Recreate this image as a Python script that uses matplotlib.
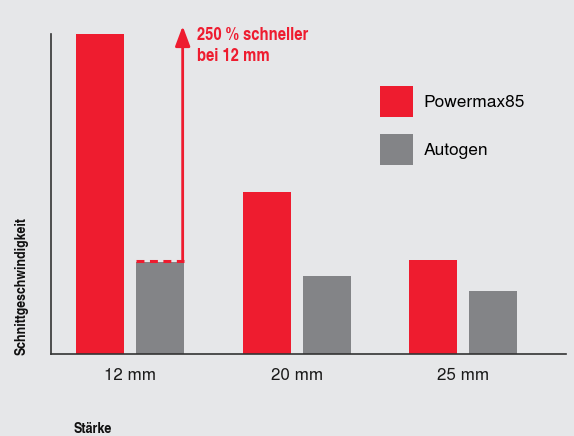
import matplotlib
matplotlib.use("Agg")
import matplotlib.pyplot as plt
import matplotlib.transforms as mtransforms
import numpy as np

categories = ["12 mm", "20 mm", "25 mm"]
powermax = [3.48, 1.76, 1.02]
autogen = [1.00, 0.85, 0.68]
series_names = ["Powermax85", "Autogen"]
annot_text = "250 % schneller\nbei 12 mm"
ylabel = "Schnittgeschwindigkeit"
xlabel = "Stärke"

COND = ['TeX Gyre Heros Cn', 'DejaVu Sans']
REG = ['TeX Gyre Heros', 'Liberation Sans', 'DejaVu Sans']
RED = "#ee1c2f"
GREY = "#838487"
BG = "#e6e7e9"

fig = plt.figure(figsize=(5.74, 4.36), dpi=100, facecolor=BG)
ax = fig.add_axes([51/574, (436-354)/436, (566-51)/574, 320/436])
ax.set_facecolor(BG)

x = np.arange(len(categories))
w = 0.288
off = 0.18
ax.bar(x - off, powermax, width=w, color=RED, label=series_names[0], zorder=2)
ax.bar(x + off, autogen, width=w, color=GREY, label=series_names[1], zorder=2)

ax.set_xlim(-0.474, 2.616)
ax.set_ylim(0, powermax[0])
ax.set_xticks(x)
ax.set_xticklabels(categories, fontsize=12.3, family=REG, color="#1a1a1a")
ax.tick_params(axis='x', length=0, pad=10)
ax.set_yticks([])
for s in ['top', 'right']:
    ax.spines[s].set_visible(False)
for s in ['left', 'bottom']:
    ax.spines[s].set_color("#333333")
    ax.spines[s].set_linewidth(1.2)

# dashed line on top of autogen 12 mm bar (sits just above the bar)
up = mtransforms.offset_copy(ax.transData, fig=fig, x=0, y=1.5, units='dots')
ax.plot([0 + off - w/2, 0 + off + w/2], [autogen[0], autogen[0]], color=RED,
        lw=2.2, dashes=(2.6, 1.8), zorder=3, solid_capstyle='butt',
        dash_capstyle='butt', transform=up)
# arrow
ax_x = 0 + off + w/2 - 0.008
ax.annotate("", xy=(ax_x, powermax[0] * 1.02), xytext=(ax_x, autogen[0]),
            xycoords=up, textcoords=up,
            arrowprops=dict(arrowstyle="-|>,head_length=1.2,head_width=0.45",
                            color=RED, lw=2, shrinkA=0, shrinkB=0),
            annotation_clip=False, zorder=4)
ax.text(ax_x + 0.085, powermax[0] * 1.022, annot_text, color=RED, fontsize=13,
        family=COND, fontweight='bold', va='top', ha='left', linespacing=1.3)

# legend
leg = ax.legend(loc='upper left', bbox_to_anchor=(0.625, 0.859), frameon=False,
                prop={'family': REG, 'size': 12.5},
                handlelength=1.9, handleheight=2.37, handletextpad=0.63,
                labelspacing=0.98, borderaxespad=0)

fig.text(22/574, 1 - 355/436, ylabel, rotation=90, ha='center', va='bottom',
         fontsize=10.8, family=COND, fontweight='bold', color="#111111")
fig.text(74/574, 1 - 422/436, xlabel, ha='left', va='top',
         fontsize=11, family=COND, fontweight='bold', color="#111111")

fig.savefig("out.png", dpi=100, facecolor=BG)
